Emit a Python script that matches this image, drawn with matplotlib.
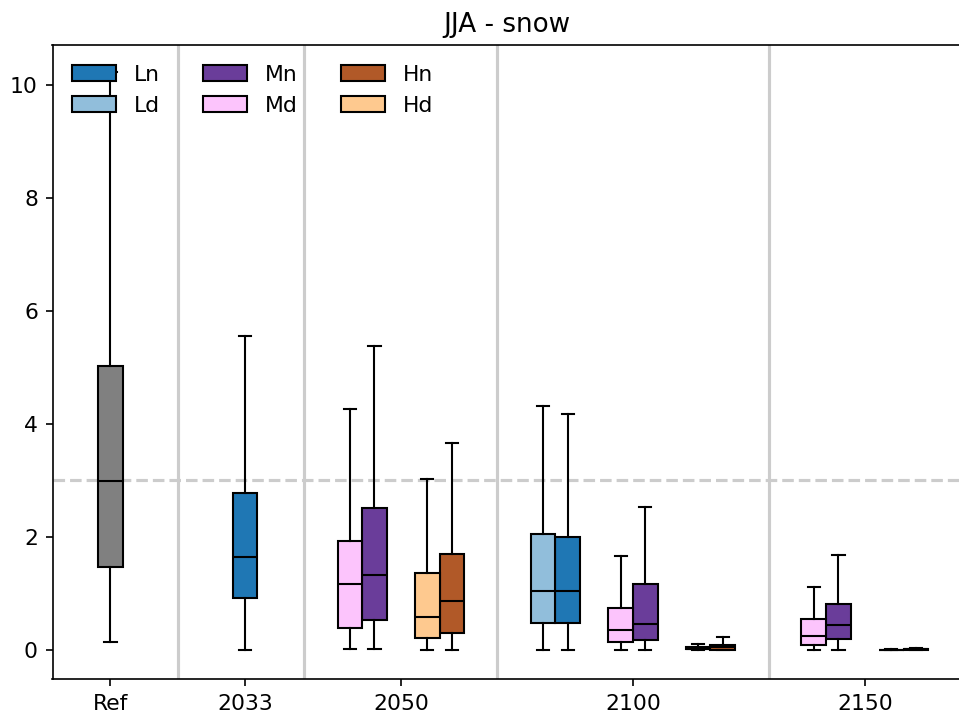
import matplotlib
matplotlib.use("Agg")
import matplotlib.pyplot as plt

plt.rcParams["font.size"] = 10.5

# stats per box: (whislo, q1, median, q3, whishi)
ref_stats = (0.14, 1.46, 2.98, 5.02, 10.23)

periods = ["2033", "2050", "2100", "2150"]
scenarios = ["Ln", "Ld", "Mn", "Md", "Hn", "Hd"]

# None = scenario not available for that period
Ln = [(0.0, 0.91, 1.64, 2.78, 5.55), None, (0.0, 0.47, 1.03, 1.99, 4.18), None]
Ld = [None, None, (0.0, 0.48, 1.04, 2.04, 4.31), None]
Mn = [None, (0.02, 0.53, 1.33, 2.51, 5.38), (0.0, 0.17, 0.45, 1.155, 2.52),
      (0.0, 0.18, 0.43, 0.80, 1.67)]
Md = [None, (0.02, 0.39, 1.16, 1.93, 4.26), (0.0, 0.13, 0.345, 0.735, 1.66),
      (0.0, 0.08, 0.24, 0.535, 1.11)]
Hn = [None, (0.0, 0.29, 0.86, 1.70, 3.66), (0.0, 0.0, 0.05, 0.09, 0.23),
      (0.0, 0.0, 0.003, 0.01, 0.025)]
Hd = [None, (0.0, 0.21, 0.58, 1.36, 3.02), (0.0, 0.005, 0.02, 0.045, 0.10),
      (0.0, 0.0, 0.0, 0.0, 0.005)]

ref_line = 3.0

# layout (box width = 1 unit)
ref_pos = 4.49
period_base = [9.46, 11.57, 22.58, 30.43]
slot = {"Ld": -0.5, "Ln": 0.5, "Md": 2.65, "Mn": 3.65, "Hd": 5.8, "Hn": 6.8}
separators = [7.25, 12.35, 20.22, 31.25]
colors = {"Ln": "#1f77b4", "Ld": "#91bedb", "Mn": "#6a3d9a", "Md": "#fcc4fc",
          "Hn": "#b15928", "Hd": "#fec98f"}

series = {"Ln": Ln, "Ld": Ld, "Mn": Mn, "Md": Md, "Hn": Hn, "Hd": Hd}


def to_stat(s):
    lo, q1, med, q3, hi = s
    return dict(whislo=lo, q1=q1, med=med, q3=q3, whishi=hi, fliers=[])


fig = plt.figure(figsize=(959 / 150, 715 / 150), dpi=150)
ax = fig.add_axes([52.5 / 959, 36 / 715, (962 - 52.5) / 959, 634 / 715])

line_kw = dict(color="black", linewidth=1)
common = dict(widths=1.0, patch_artist=True, showfliers=False,
              medianprops=line_kw, whiskerprops=line_kw, capprops=line_kw)

b = ax.bxp([to_stat(ref_stats)], positions=[ref_pos],
           boxprops=dict(facecolor="gray", edgecolor="black", linewidth=1), **common)

handles = {}
tick_pos = [ref_pos]
for i, p in enumerate(periods):
    present = []
    for sc in scenarios:
        s = series[sc][i]
        if s is None:
            continue
        x = period_base[i] + slot[sc]
        present.append(x)
        bp = ax.bxp([to_stat(s)], positions=[x],
                    boxprops=dict(facecolor=colors[sc], edgecolor="black", linewidth=1),
                    **common)
        handles.setdefault(sc, bp["boxes"][0])
    tick_pos.append(sum(present) / len(present))

for xs in separators:
    ax.axvline(xs, color="0.8", linewidth=1.5, zorder=0)
ax.axhline(ref_line, color="0.8", linestyle="--", linewidth=1.5, zorder=0)

ax.set_xticks(tick_pos)
ax.set_xticklabels(["Ref"] + periods)
ax.set_xlim(52.5 / 24.6, 962 / 24.6)
ax.set_ylim(-0.52, 10.71)
ax.set_title("JJA - snow")

ax.legend([handles[s] for s in scenarios], scenarios, ncol=3,
          loc="upper left", frameon=False)

fig.savefig("out.png", dpi=150)
